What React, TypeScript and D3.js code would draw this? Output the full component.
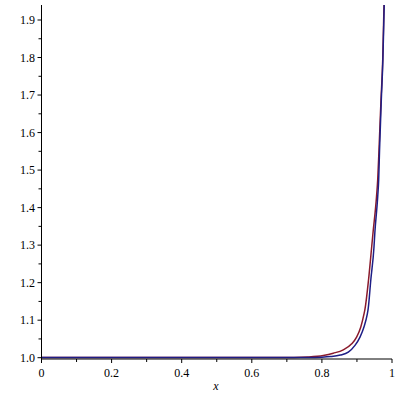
import React from "react";
import * as d3 from "d3";

const redX = [0, 0.3, 0.6, 0.72, 0.76, 0.804, 0.8325, 0.861, 0.885, 0.899, 0.911, 0.92, 0.923, 0.933, 0.942, 0.9458, 0.9558, 0.9592, 0.9629, 0.9686, 0.9735, 0.9772, 0.98];
const redY = [1.0005, 1.0005, 1.0005, 1.0008, 1.002, 1.006, 1.012, 1.021, 1.037, 1.055, 1.082, 1.116, 1.13, 1.207, 1.295, 1.3325, 1.4285, 1.474, 1.554, 1.687, 1.794, 1.941, 2.05];
const blueX = [0, 0.3, 0.6, 0.76, 0.8, 0.8245, 0.8525, 0.8753, 0.8944, 0.9087, 0.92, 0.9295, 0.932, 0.9395, 0.9486, 0.951, 0.9592, 0.962, 0.9645, 0.9695, 0.974, 0.9778, 0.981];
const blueY = [1.0005, 1.0005, 1.0005, 1.0007, 1.0015, 1.003, 1.007, 1.015, 1.033, 1.055, 1.082, 1.116, 1.13, 1.207, 1.295, 1.3325, 1.4285, 1.474, 1.554, 1.687, 1.794, 1.941, 2.05];
const xTicks = [0, 0.2, 0.4, 0.6, 0.8, 1];
const xMinor = [0.1, 0.3, 0.5, 0.7, 0.9];
const yTicks = [1.0, 1.1, 1.2, 1.3, 1.4, 1.5, 1.6, 1.7, 1.8, 1.9];

export default function App() {
  const x = d3.scaleLinear().domain([0, 1]).range([41.5, 392]);
  const y = d3.scaleLinear().domain([1, 1.9]).range([357.7, 20]);
  const yMin = y.invert(359);
  const yMax = y.invert(5);
  const line = d3
    .line<[number, number]>()
    .x((d) => x(d[0]))
    .y((d) => y(d[1]))
    .curve(d3.curveMonotoneX);
  const red: [number, number][] = redX.map((v, i) => [v, redY[i]]);
  const blue: [number, number][] = blueX.map((v, i) => [v, blueY[i]]);
  const yMinorTicks = d3.range(1.05, 1.95, 0.1);
  const textStyle: React.CSSProperties = {
    fontFamily: '"Liberation Serif", "DejaVu Serif", serif',
    fontSize: "12px",
  };
  return (
    <svg
      width={400}
      height={400}
      style={{ position: "absolute", left: 0, top: 0, background: "#fff" }}
    >
      <defs>
        <clipPath id="plotclip">
          <rect x={x(0)} y={y(yMax)} width={x(1) - x(0)} height={y(yMin) - y(yMax)} />
        </clipPath>
      </defs>
      <g clipPath="url(#plotclip)">
        <path d={line(red) || ""} fill="none" stroke="#8a1a2c" strokeWidth={1.5} />
        <path d={line(blue) || ""} fill="none" stroke="#1e1e86" strokeWidth={1.5} />
      </g>
      <line x1={x(0)} x2={x(1)} y1={y(yMin)} y2={y(yMin)} stroke="#000" strokeWidth={1} />
      <line x1={x(0)} x2={x(0)} y1={y(yMin)} y2={y(yMax)} stroke="#000" strokeWidth={1} />
      {xTicks.map((t) => (
        <g key={"xt" + t}>
          <line x1={x(t)} x2={x(t)} y1={y(yMin)} y2={y(yMin) + 4} stroke="#000" />
          <text x={x(t)} y={377} textAnchor="middle" style={textStyle} fill="#000">
            {t === 0 ? "0" : t === 1 ? "1" : t.toFixed(1)}
          </text>
        </g>
      ))}
      {xMinor.map((t) => (
        <line key={"xm" + t} x1={x(t)} x2={x(t)} y1={y(yMin)} y2={y(yMin) + 3} stroke="#000" />
      ))}
      {yTicks.map((t) => (
        <g key={"yt" + t}>
          <line x1={x(0) - 4} x2={x(0)} y1={y(t)} y2={y(t)} stroke="#000" />
          <text x={35} y={y(t) + 4} textAnchor="end" style={textStyle} fill="#000">
            {t.toFixed(1)}
          </text>
        </g>
      ))}
      {yMinorTicks.map((t) => (
        <line key={"ym" + t} x1={x(0) - 3} x2={x(0)} y1={y(t)} y2={y(t)} stroke="#000" />
      ))}
      <text
        x={216}
        y={390}
        textAnchor="middle"
        style={{ ...textStyle, fontStyle: "italic", fontSize: "12px" }}
        fill="#000"
      >
        x
      </text>
    </svg>
  );
}
